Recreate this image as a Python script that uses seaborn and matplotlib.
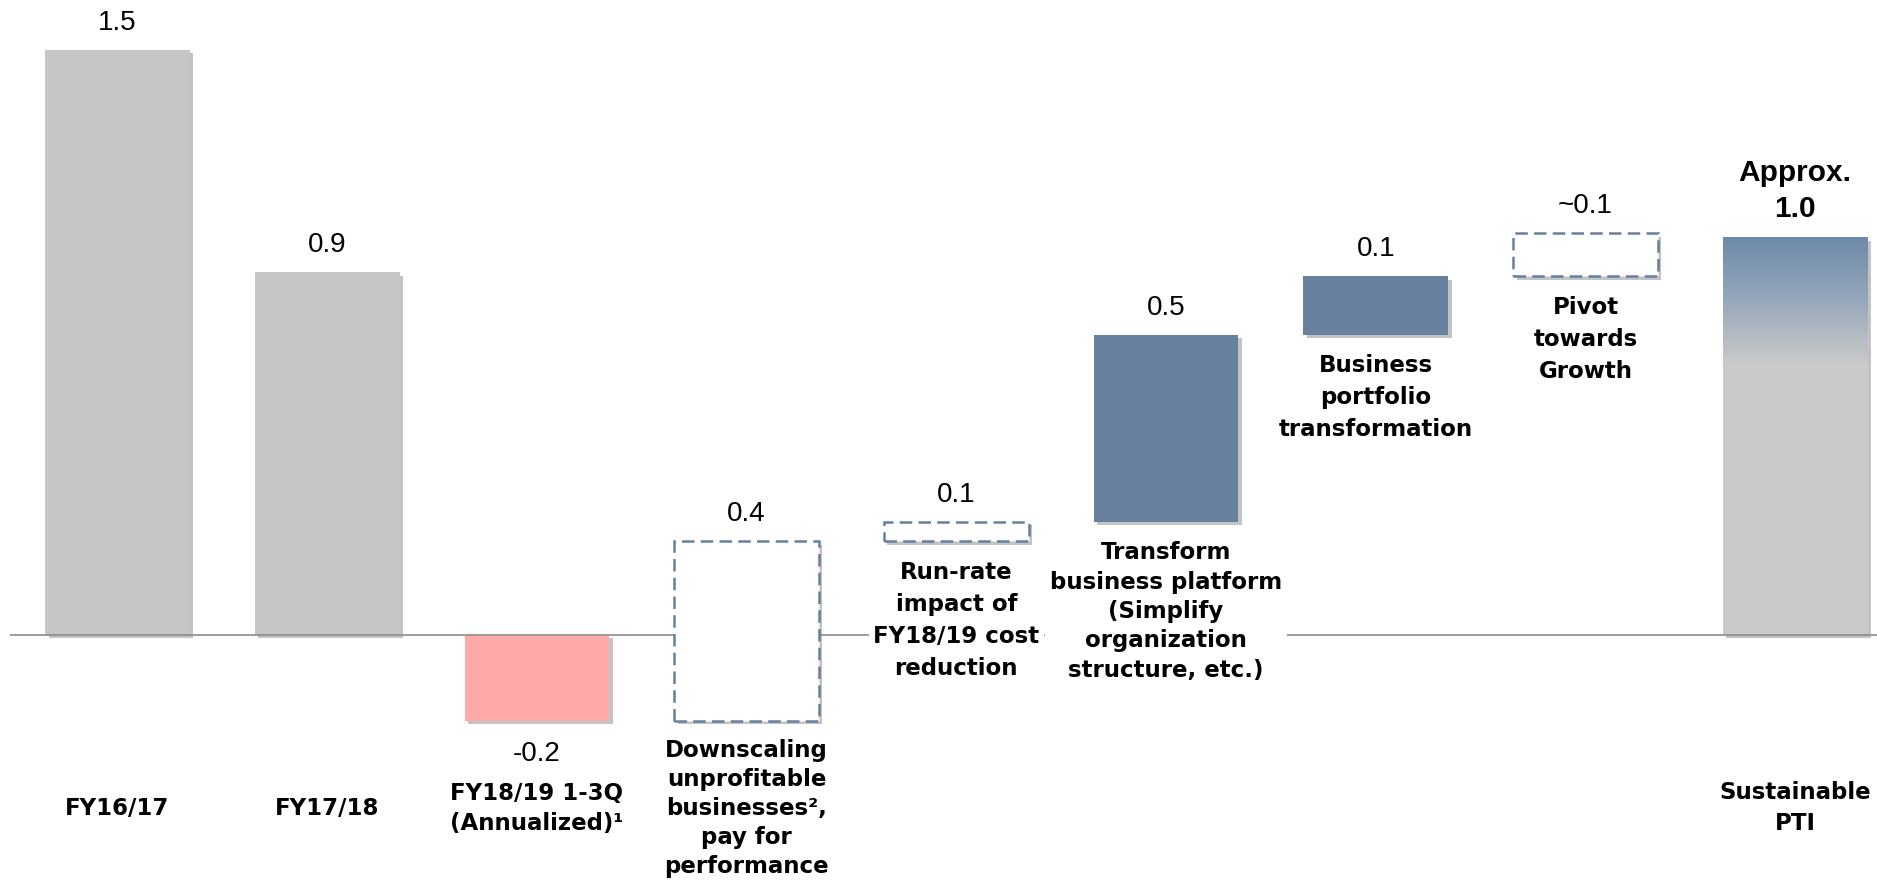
import numpy as np
import pandas as pd
import matplotlib
matplotlib.use("Agg")
import matplotlib.pyplot as plt
import matplotlib.patheffects as pe
from matplotlib.colors import LinearSegmentedColormap
import seaborn as sns

# --- data -----------------------------------------------------------------
categories = ["FY16/17", "FY17/18", "FY18/19 1-3Q", "Downscaling", "Run-rate",
              "Transform", "Portfolio", "Pivot", "Sustainable PTI"]
kinds = ["total", "total", "total", "delta", "delta", "delta", "delta", "delta", "total"]
step_values = [1.5, 0.93, -0.22, 0.46, 0.05, 0.48, 0.15, 0.11, 1.02]
value_labels = ["1.5", "0.9", "-0.2", "0.4", "0.1", "0.5", "0.1", "~0.1", "Approx.\n1.0"]
styles = ["gray", "gray", "pink", "dashed", "dashed", "solid", "solid", "dashed", "gradient"]

bottom_labels = {
    0: "FY16/17",
    1: "FY17/18",
    2: "FY18/19 1-3Q\n(Annualized)\u00b9",
    3: "Downscaling\nunprofitable\nbusinesses\u00b2,\npay for\nperformance",
    8: "Sustainable\nPTI",
}
under_bar_labels = {
    4: "Run-rate\nimpact of\nFY18/19 cost\nreduction",
    5: "Transform\nbusiness platform\n(Simplify\norganization\nstructure, etc.)",
    6: "Business\nportfolio\ntransformation",
    7: "Pivot\ntowards\nGrowth",
}

GRAY = "#c6c6c6"
PINK = "#ffaaa8"
BLUE = "#66809e"
LABEL_FONT = ["DejaVu Sans"]

# waterfall bottoms
bottoms = []
running = 0.0
for k, v in zip(kinds, step_values):
    if k == "total":
        bottoms.append(0.0)
        running = v
    else:
        bottoms.append(running)
        running += v

df = pd.DataFrame({"category": categories, "height": step_values, "bottom": bottoms})

sns.set_theme(style="white")
plt.rcParams["font.family"] = ["Liberation Sans", "DejaVu Sans"]

fig = plt.figure(figsize=(18.77, 8.94), dpi=100)
ax = fig.add_axes([0, 0, 1, 1])

fill_map = {"gray": GRAY, "pink": PINK, "dashed": "white", "solid": BLUE, "gradient": GRAY}
palette = [fill_map[s] for s in styles]
sns.barplot(data=df, x="category", y="height", hue="category", palette=palette,
            legend=False, width=0.69, errorbar=None, saturation=1, ax=ax)

shadow = [pe.SimplePatchShadow(offset=(2.5, -2.5), shadow_rgbFace="#555555", alpha=0.35),
          pe.Normal()]

for i, (patch, b, st) in enumerate(zip(ax.patches, bottoms, styles)):
    patch.set_y(b)
    patch.set_edgecolor("none")
    patch.set_zorder(2)
    patch.set_path_effects(shadow)
    if st == "solid":
        patch.set_zorder(3)
    if st == "dashed":
        patch.set_facecolor("white")
        patch.set_edgecolor(BLUE)
        patch.set_linewidth(1.8)
        patch.set_linestyle((0, (5, 2.5)))
        patch.set_zorder(3)
    if st == "gradient":
        x0 = patch.get_x()
        w = patch.get_width()
        h = patch.get_height()
        cmap = LinearSegmentedColormap.from_list(
            "fade", [(0, "#6e8aa8"), (0.15, "#94a6ba"), (0.32, "#cacaca"), (1, "#cacaca")])
        grad = np.linspace(0, 1, 256).reshape(-1, 1)
        im = ax.imshow(grad, cmap=cmap, aspect="auto", extent=(x0, x0 + w, b, b + h),
                       origin="upper", zorder=2.1)
        im.set_clip_path(patch)

# baseline
ax.plot([-0.51, 8.6], [0, 0], color="#8c8c8c", lw=1.2, zorder=2.2, solid_capstyle="butt")

ax.set_xlim(-0.56, 8.39)
ax.set_ylim(-0.664, 1.628)
ax.axis("off")

# value labels
for i, (lab, b, v) in enumerate(zip(value_labels, bottoms, step_values)):
    top = b + max(v, 0)
    if v < 0:
        ax.annotate(lab, xy=(i, b + v), xytext=(0, -24), textcoords="offset points",
                    ha="center", va="center", fontsize=20, color="black")
    elif "\n" in lab:
        ax.annotate(lab, xy=(i, top), xytext=(0, 10.5), textcoords="offset points",
                    ha="center", va="bottom", fontsize=21.5, fontweight="bold",
                    linespacing=1.35, color="black")
    else:
        ax.annotate(lab, xy=(i, top), xytext=(0, 19.5), textcoords="offset points",
                    ha="center", va="center", fontsize=20, color="black")

# category labels along the bottom
bottom_spacing = {0: 1.35, 1: 1.35, 2: 1.4, 3: 1.33, 8: 1.45}
for i, lab in bottom_labels.items():
    ax.text(i, -0.444, lab, ha="center", va="center", fontsize=16.5,
            fontweight="bold", family=LABEL_FONT, linespacing=bottom_spacing[i],
            color="black")

# category labels tucked under floating bars
under_spacing = {4: 1.5, 5: 1.35, 6: 1.5, 7: 1.5}
for i, lab in under_bar_labels.items():
    ax.annotate(lab, xy=(i, bottoms[i]), xytext=(0, -14), textcoords="offset points",
                ha="center", va="top", fontsize=16.5, fontweight="bold",
                family=LABEL_FONT, linespacing=under_spacing[i], color="black",
                zorder=2.5, bbox=dict(boxstyle="square,pad=0.2", fc="white", ec="none"))

fig.savefig("out.png", dpi=100)
